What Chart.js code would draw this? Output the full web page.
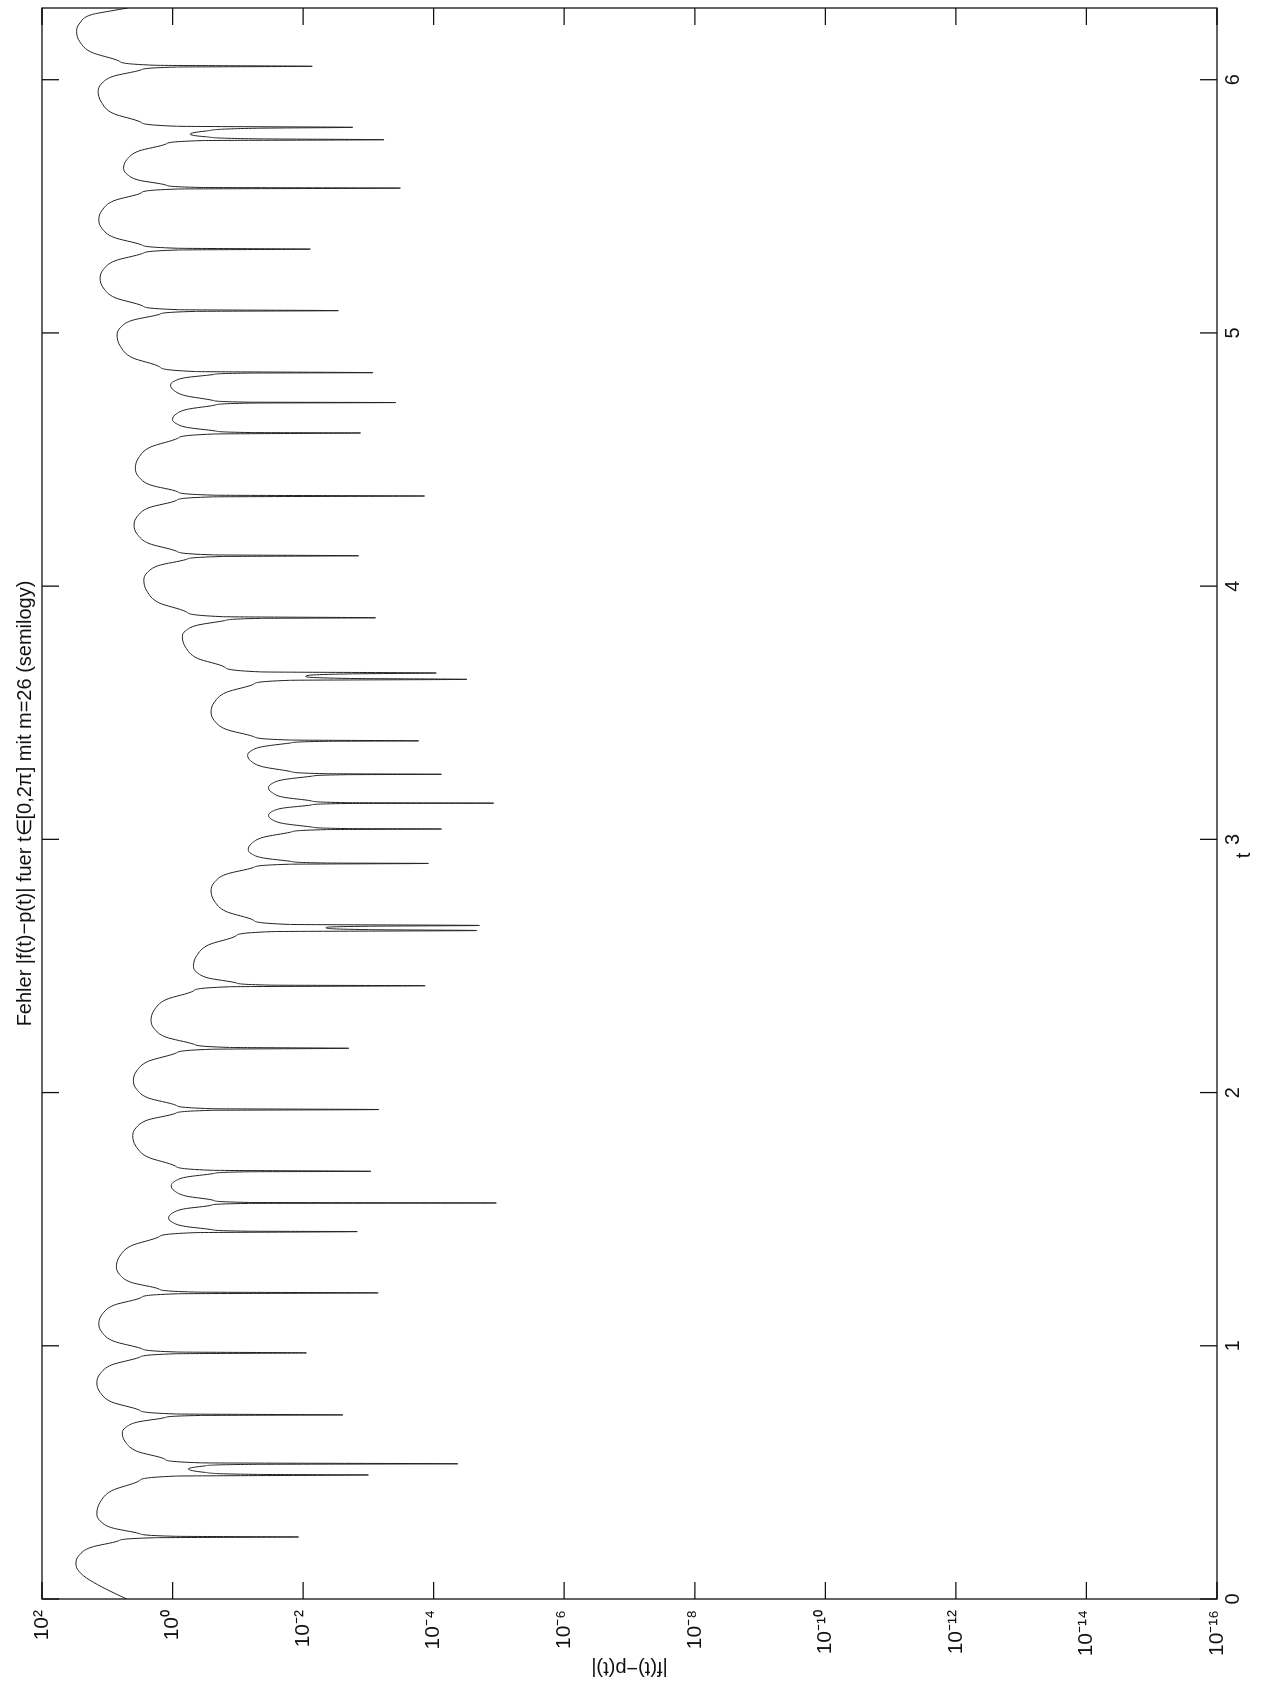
<!DOCTYPE html>
<html>
<head>
<meta charset="utf-8">
<script src="https://cdn.jsdelivr.net/npm/chart.js@4.4.1/dist/chart.umd.min.js"></script>
<style>
  html, body { margin: 0; padding: 0; background: #fff; }
  body { width: 1271px; height: 1685px; overflow: hidden; position: relative; }
  #page {
    position: absolute; left: 0; top: 0;
    width: 1685px; height: 1271px;
    transform-origin: 0 0;
    transform: translate(0px, 1685px) rotate(-90deg);
  }
</style>
</head>
<body>
<div id="page"><canvas id="chartGraph" width="1685" height="1271"></canvas></div>
<script>
const ctx = document.getElementById('chartGraph');

// t values and log10 of |f(t)-p(t)|, arc by arc
const tVals = [
  0, 0.018, 0.057, 0.091, 0.124, 0.142, 0.173, 0.204, 0.2296, 0.242, 0.245,
  0.2477, 0.2587, 0.2814, 0.3087, 0.336, 0.382, 0.428, 0.467, 0.4854, 0.490,
  0.492, 0.500, 0.514, 0.526, 0.532, 0.534,
  0.5378, 0.5523, 0.5828, 0.6194, 0.656, 0.6773, 0.6986, 0.7164, 0.7249, 0.727,
  0.7308, 0.746, 0.7778, 0.8159, 0.854, 0.8894, 0.9248, 0.9543, 0.9685, 0.972,
  0.9755, 0.9893, 1.018, 1.0525, 1.087, 1.1236, 1.1602, 1.1907, 1.2054, 1.209,
  1.2121, 1.2245, 1.2502, 1.2811, 1.312, 1.3537, 1.3954, 1.4302, 1.4468, 1.451,
  1.4526, 1.4591, 1.4726, 1.4888, 1.505, 1.5227, 1.5404, 1.5552, 1.5622, 1.564,
  1.566, 1.5742, 1.5912, 1.6116, 1.632, 1.6491, 1.6662, 1.6805, 1.6873, 1.689,
  1.6932, 1.7102, 1.7454, 1.7877, 1.830, 1.8609, 1.8918, 1.9176, 1.9299, 1.933,
  1.9364, 1.9501, 1.9786, 2.0128, 2.047, 2.0854, 2.1238, 2.1558, 2.1712, 2.175,
  2.1783, 2.1915, 2.219, 2.252, 2.285, 2.3261, 2.3672, 2.4015, 2.4179, 2.422,
  2.4243, 2.4334, 2.4524, 2.4752, 2.498, 2.5406, 2.5832, 2.6187, 2.6357, 2.640,
  2.6435, 2.651, 2.657, 2.660,
  2.6641, 2.6807, 2.7152, 2.7566, 2.798, 2.8301, 2.8622, 2.889, 2.9018, 2.905,
  2.9066, 2.9131, 2.9266, 2.9428, 2.959, 2.9836, 3.0082, 3.0287, 3.0385, 3.041,
  3.0426, 3.0491, 3.0626, 3.0788, 3.095, 3.1094, 3.1238, 3.1358, 3.1416, 3.143,
  3.1449, 3.1522, 3.1664, 3.1857, 3.204, 3.2199, 3.2358, 3.2491, 3.2554, 3.257,
  3.2593, 3.2683, 3.287, 3.3095, 3.332, 3.3491, 3.3662, 3.3805, 3.3873, 3.389,
  3.3924, 3.4061, 3.4346, 3.4688, 3.503, 3.5417, 3.5804, 3.6127, 3.6281, 3.632,
  3.6355, 3.644, 3.6535, 3.657,
  3.6614, 3.6802, 3.715, 3.7585, 3.802, 3.8239, 3.8458, 3.8641, 3.8728, 3.875,
  3.8795, 3.8983, 3.9346, 3.9793, 4.024, 4.0528, 4.0816, 4.1056, 4.1171, 4.120,
  4.1236, 4.1382, 4.1684, 4.2047, 4.241, 4.2755, 4.31, 4.3388, 4.3526, 4.356,
  4.3593, 4.3724, 4.3996, 4.4323, 4.465, 4.507, 4.549, 4.584, 4.6008, 4.605,
  4.6066, 4.6131, 4.6266, 4.6428, 4.659, 4.6788, 4.6986, 4.7151, 4.723, 4.725,
  4.7266, 4.7335, 4.752, 4.773, 4.794, 4.8087, 4.8234, 4.8357, 4.8415, 4.843,
  4.8475, 4.8663, 4.9026, 4.9473, 4.992, 5.0208, 5.0496, 5.0736, 5.0851, 5.088,
  5.0918, 5.1069, 5.1392, 5.1776, 5.216, 5.2505, 5.285, 5.3138, 5.3276, 5.331,
  5.3345, 5.3484, 5.3774, 5.4122, 5.447, 5.4845, 5.522, 5.5533, 5.5683, 5.572,
  5.5744, 5.5839, 5.6036, 5.6273, 5.651, 5.6846, 5.7182, 5.7462, 5.7596, 5.763,
  5.7665, 5.775, 5.785, 5.797, 5.8085, 5.812,
  5.8163, 5.8327, 5.8668, 5.9114, 5.954, 5.9837, 6.0134, 6.0382, 6.050, 6.053,
  6.0571, 6.0737, 6.1082, 6.1496, 6.191, 6.224, 6.257, 6.272, 6.2832
];

const logErr = [
  0.70, 0.85, 1.15, 1.36, 1.47, 1.48, 1.43, 1.25, 0.83, 0.28, -1.93,
  -0.04, 0.51, 0.93, 1.11, 1.16, 1.11, 0.93, 0.51, -0.04, -3.00,
  -1.30, -0.50, -0.24, -0.50, -1.30, -4.37,
  -0.43, 0.12, 0.54, 0.72, 0.77, 0.72, 0.54, 0.12, -0.43, -2.61,
  -0.04, 0.51, 0.93, 1.11, 1.16, 1.11, 0.93, 0.51, -0.04, -2.05,
  -0.07, 0.48, 0.90, 1.08, 1.13, 1.08, 0.90, 0.48, -0.07, -3.15,
  -0.34, 0.21, 0.63, 0.81, 0.86, 0.81, 0.63, 0.21, -0.34, -2.83,
  -1.14, -0.59, -0.17, 0.01, 0.06, 0.01, -0.17, -0.59, -1.14, -4.96,
  -1.18, -0.63, -0.21, -0.03, 0.02, -0.03, -0.21, -0.63, -1.18, -3.04,
  -0.59, -0.04, 0.38, 0.56, 0.61, 0.56, 0.38, -0.04, -0.59, -3.16,
  -0.60, -0.05, 0.37, 0.55, 0.60, 0.55, 0.37, -0.05, -0.60, -2.70,
  -0.87, -0.32, 0.10, 0.28, 0.33, 0.28, 0.10, -0.32, -0.87, -3.87,
  -1.52, -0.97, -0.55, -0.37, -0.32, -0.37, -0.55, -0.97, -1.52, -4.66,
  -3.00, -2.35, -3.00, -4.70,
  -1.79, -1.24, -0.82, -0.64, -0.59, -0.64, -0.82, -1.24, -1.79, -3.92,
  -2.36, -1.81, -1.39, -1.21, -1.16, -1.21, -1.39, -1.81, -2.36, -4.12,
  -2.67, -2.12, -1.70, -1.52, -1.47, -1.52, -1.70, -2.12, -2.67, -4.92,
  -2.67, -2.12, -1.70, -1.52, -1.47, -1.52, -1.70, -2.12, -2.67, -4.12,
  -2.35, -1.80, -1.38, -1.20, -1.15, -1.20, -1.38, -1.80, -2.35, -3.77,
  -1.79, -1.24, -0.82, -0.64, -0.59, -0.64, -0.82, -1.24, -1.79, -4.51,
  -2.70, -2.04, -2.70, -4.04,
  -1.35, -0.80, -0.38, -0.20, -0.15, -0.20, -0.38, -0.80, -1.35, -3.11,
  -0.76, -0.21, 0.21, 0.39, 0.44, 0.39, 0.21, -0.21, -0.76, -2.85,
  -0.61, -0.06, 0.36, 0.54, 0.59, 0.54, 0.36, -0.06, -0.61, -3.86,
  -0.63, -0.08, 0.34, 0.52, 0.57, 0.52, 0.34, -0.08, -0.63, -2.88,
  -1.20, -0.65, -0.23, -0.05, 0.00, -0.05, -0.23, -0.65, -1.20, -3.42,
  -1.17, -0.62, -0.20, -0.02, 0.03, -0.02, -0.20, -0.62, -1.17, -3.07,
  -0.35, 0.20, 0.62, 0.80, 0.85, 0.80, 0.62, 0.20, -0.35, -2.54,
  -0.09, 0.46, 0.88, 1.06, 1.11, 1.06, 0.88, 0.46, -0.09, -2.11,
  -0.07, 0.48, 0.90, 1.08, 1.13, 1.08, 0.90, 0.48, -0.07, -3.49,
  -0.45, 0.10, 0.52, 0.70, 0.75, 0.70, 0.52, 0.10, -0.45, -3.24,
  -1.30, -0.50, -0.27, -0.50, -1.30, -2.76,
  -0.06, 0.49, 0.91, 1.09, 1.14, 1.09, 0.91, 0.49, -0.06, -2.14,
  0.27, 0.82, 1.24, 1.42, 1.47, 1.42, 1.24, 0.94, 0.69
];

const tTicks = [0, 1, 2, 3, 4, 5, 6];
const tTickLabels = ['0', '1', '2', '3', '4', '5', '6'];
const logTickExp = [2, 0, -2, -4, -6, -8, -10, -12, -14, -16];
const logTickLabels = ['10²', '10⁰', '10⁻²', '10⁻⁴', '10⁻⁶', '10⁻⁸', '10⁻¹⁰', '10⁻¹²', '10⁻¹⁴', '10⁻¹⁶'];

const fontFam = '"Liberation Sans", Arial, Helvetica, sans-serif';
const tickLen = 17;

const points = tVals.map((t, i) => ({x: t, y: Math.pow(10, logErr[i])}));

// MATLAB style box with inward ticks on all four sides, plus the "t" axis label
const boxTicks = {
  id: 'boxTicks',
  afterDraw(chart) {
    const c = chart.ctx;
    const a = chart.chartArea;
    const xs = chart.scales.x;
    const ys = chart.scales.y;
    c.save();
    c.strokeStyle = '#111';
    c.lineWidth = 1.3;
    c.strokeRect(a.left, a.top, a.right - a.left, a.bottom - a.top);
    c.beginPath();
    tTicks.forEach((v) => {
      const px = xs.getPixelForValue(v);
      c.moveTo(px, a.bottom); c.lineTo(px, a.bottom - tickLen);
      c.moveTo(px, a.top); c.lineTo(px, a.top + tickLen);
    });
    logTickExp.forEach((e) => {
      const py = ys.getPixelForValue(Math.pow(10, e));
      c.moveTo(a.left, py); c.lineTo(a.left + tickLen, py);
      c.moveTo(a.right, py); c.lineTo(a.right - tickLen, py);
    });
    c.stroke();

    c.fillStyle = '#111';
    c.font = '20px ' + fontFam;
    c.textAlign = 'center';
    c.textBaseline = 'middle';
    c.fillText('t', (a.left + a.right) / 2 - 52, a.bottom + 27);
    c.restore();
  }
};

new Chart(ctx, {
  type: 'line',
  data: {
    datasets: [{
      data: points,
      borderColor: '#222',
      borderWidth: 1,
      pointRadius: 0,
      fill: false,
      cubicInterpolationMode: 'monotone'
    }]
  },
  options: {
    responsive: false,
    animation: false,
    devicePixelRatio: 1,
    layout: { padding: { left: 0, right: 8, top: 0, bottom: 0 } },
    scales: {
      x: {
        type: 'linear',
        min: 0,
        max: 2 * Math.PI,
        afterFit: (s) => { s.height = 54; },
        afterBuildTicks: (s) => { s.ticks = tTicks.map((v) => ({value: v})); },
        grid: { display: false, drawTicks: false },
        border: { display: false },
        ticks: {
          padding: 4,
          autoSkip: false,
          maxRotation: 0,
          color: '#111',
          font: { family: fontFam, size: 20 },
          callback: (v, i) => tTickLabels[i]
        }
      },
      y: {
        type: 'logarithmic',
        min: 1e-16,
        max: 1e2,
        afterFit: (s) => { s.width = 86; },
        afterBuildTicks: (s) => { s.ticks = logTickExp.map((e) => ({value: Math.pow(10, e)})); },
        grid: { display: false, drawTicks: false },
        border: { display: false },
        ticks: {
          padding: 11,
          autoSkip: false,
          color: '#111',
          font: { family: fontFam, size: 21 },
          callback: (v, i) => logTickLabels[i]
        },
        title: {
          display: true,
          text: '|f(t)−p(t)|',
          color: '#111',
          font: { family: fontFam, size: 20 },
          padding: { top: 5, bottom: 0 }
        }
      }
    },
    plugins: {
      legend: { display: false },
      tooltip: { enabled: false },
      title: {
        display: true,
        fullSize: false,
        text: 'Fehler |f(t)−p(t)| fuer t∈[0,2π] mit m=26 (semilogy)',
        color: '#111',
        font: { family: fontFam, size: 20, weight: 'normal' },
        padding: { top: 13, bottom: 5 }
      }
    }
  },
  plugins: [boxTicks]
});
</script>
</body>
</html>
